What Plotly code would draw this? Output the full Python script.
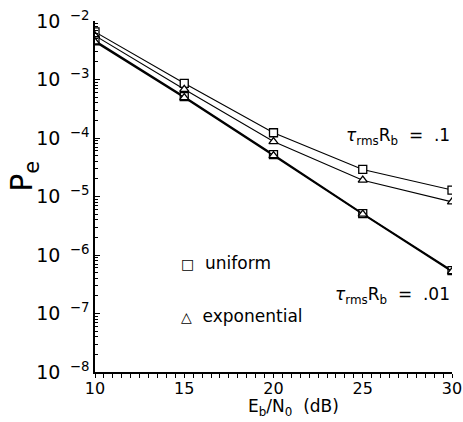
import plotly.graph_objects as go

ebno = [10, 15, 20, 25, 30]
uniform_r1 = [6.5e-3, 8.6e-4, 1.23e-4, 2.9e-5, 1.29e-5]
expo_r1 = [5.6e-3, 6.8e-4, 8.7e-5, 1.9e-5, 8.1e-6]
uniform_r01 = [4.6e-3, 5.1e-4, 5.2e-5, 5.1e-6, 5.4e-7]
expo_r01 = [4.4e-3, 4.9e-4, 5.0e-5, 5.0e-6, 5.2e-7]

decades = [-8, -7, -6, -5, -4, -3, -2]
ytick_vals = [10.0 ** d for d in decades]
ytick_text = ["10\u2002<sup>\u2212%d</sup>" % (-d) for d in decades]
xtick_vals = [10, 15, 20, 25, 30]

FONT = "DejaVu Sans"

fig = go.Figure()

def add(y, sym, width, size):
    fig.add_trace(go.Scatter(
        x=ebno, y=y, mode="lines+markers",
        line=dict(color="black", width=width),
        marker=dict(symbol=sym, size=size, color="white",
                    line=dict(color="black", width=1.3)),
        showlegend=False, hoverinfo="skip"))

add(uniform_r1, "square", 1.1, 8)
add(expo_r1, "triangle-up", 1.1, 8)
add(uniform_r01, "square", 1.7, 8)
add(expo_r01, "triangle-up", 1.7, 8)

minor_y = [m * 10.0 ** d for d in decades[:-1] for m in range(2, 10)]
minor_x = [v / 2 for v in range(20, 61)]

fig.update_layout(
    width=463, height=422,
    margin=dict(l=95, r=11, t=21, b=50),
    paper_bgcolor="white", plot_bgcolor="white",
    font=dict(family=FONT, color="black"),
    xaxis=dict(
        range=[10, 30], showgrid=False, zeroline=False, automargin=False,
        showline=True, linecolor="black", linewidth=1.5,
        tickvals=xtick_vals, ticks="outside", ticklen=4, tickwidth=1,
        tickcolor="black", tickfont=dict(size=16, family=FONT),
        ticklabelstandoff=-3,
        minor=dict(tickvals=minor_x, ticks="outside", ticklen=4,
                   tickwidth=1, tickcolor="black"),
    ),
    yaxis=dict(
        type="log", range=[-8, -2], showgrid=False, zeroline=False,
        automargin=False,
        showline=True, linecolor="black", linewidth=1.5,
        tickvals=ytick_vals, ticktext=ytick_text,
        ticks="inside", ticklen=5, tickwidth=1, tickcolor="black",
        tickfont=dict(size=19, family=FONT),
        minor=dict(tickvals=minor_y, ticks="inside", ticklen=3,
                   tickwidth=1, tickcolor="black"),
    ),
)

def note(x, y, text, size, xanchor="center", angle=0, yanchor="middle"):
    fig.add_annotation(
        xref="paper", yref="paper", x=x, y=y, xanchor=xanchor,
        yanchor=yanchor, text=text, textangle=angle, showarrow=False,
        font=dict(size=size, family=FONT))

note(-0.20, 0.558, "P<sub>e</sub>", 30, angle=-90)
note(0.555, -0.1396, "E<sub>b</sub>/N<sub>0</sub>  (dB)", 17, yanchor="bottom")
note(1.0, 0.67, "<i>\u03c4</i><sub>rms</sub>R<sub>b</sub>  =  .1", 17, "right")
note(1.0, 0.219, "<i>\u03c4</i><sub>rms</sub>R<sub>b</sub>  =  .01", 17, "right")
note(0.235, 0.31, "<span style='font-size:14px'>\u25a1</span>  uniform", 17, "left")
note(0.235, 0.16, "<span style='font-size:14px'>\u25b3</span>  exponential", 17, "left")

fig.write_html("out.html")
